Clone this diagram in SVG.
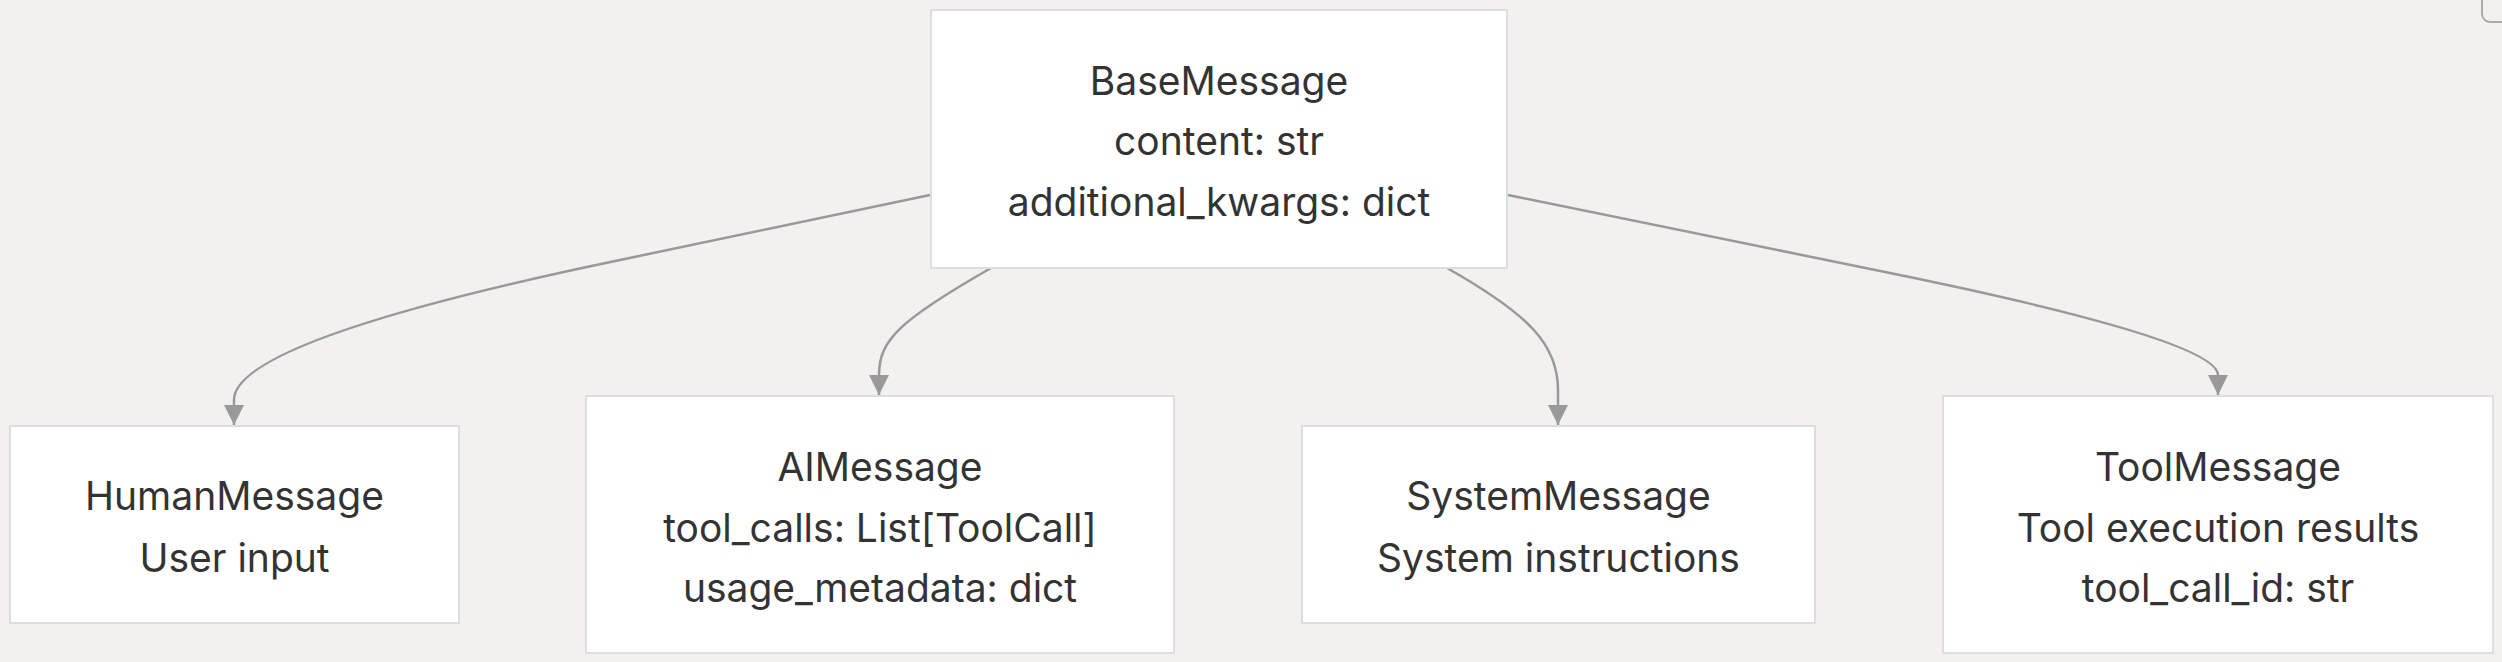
<svg xmlns="http://www.w3.org/2000/svg" width="2502" height="662" viewBox="0 0 2502 662">
<defs>
<marker id="arr" markerUnits="userSpaceOnUse" markerWidth="22" markerHeight="22" refX="20" refY="10" orient="auto">
<path d="M0,0 L20,10 L0,20 z" fill="#999999"/>
</marker>
<style>
.box{fill:#ffffff;stroke:#dddddd;stroke-width:2}
.t{font-family:Inter,"Noto Sans","Liberation Sans",sans-serif;font-size:39px;fill:#333333;text-anchor:middle;dominant-baseline:central}
.e{fill:none;stroke:#999999;stroke-width:2.5;marker-end:url(#arr)}
</style>
</defs>
<rect x="0" y="0" width="2502" height="662" fill="#f2f1f0"/>
<g id="edges">
<path class="e" d="M930,195 L620,260 Q234,340 234,400 L234,425"/>
<path class="e" d="M991,268 C900,320 879,340 879,375 L879,395"/>
<path class="e" d="M1447,268 C1530,315 1558,345 1558,390 L1558,425"/>
<path class="e" d="M1508,195 L1890,273 Q2218,340 2218,375 L2218,395"/>
</g>
<g id="BaseMessage">
<rect class="box" x="931" y="10" width="576" height="258"/>
<text class="t" x="1219" y="80">BaseMessage</text>
<text class="t" x="1219" y="140">content: str</text>
<text class="t" x="1219" y="201">additional_kwargs: dict</text>
</g>
<g id="HumanMessage">
<rect class="box" x="10" y="426" width="449" height="197"/>
<text class="t" x="234.5" y="495">HumanMessage</text>
<text class="t" x="234.5" y="557">User input</text>
</g>
<g id="AIMessage">
<rect class="box" x="586" y="396" width="588" height="257"/>
<text class="t" x="880" y="466">AIMessage</text>
<text class="t" x="880" y="527">tool_calls: List[ToolCall]</text>
<text class="t" x="880" y="587">usage_metadata: dict</text>
</g>
<g id="SystemMessage">
<rect class="box" x="1302" y="426" width="513" height="197"/>
<text class="t" x="1558.5" y="495">SystemMessage</text>
<text class="t" x="1558.5" y="557">System instructions</text>
</g>
<g id="ToolMessage">
<rect class="box" x="1943" y="396" width="550" height="257"/>
<text class="t" x="2218" y="466">ToolMessage</text>
<text class="t" x="2218" y="527">Tool execution results</text>
<text class="t" x="2218" y="587">tool_call_id: str</text>
</g>
<rect x="2482" y="-20" width="40" height="42" rx="8" fill="none" stroke="#aaaaaa" stroke-width="2"/>
</svg>
